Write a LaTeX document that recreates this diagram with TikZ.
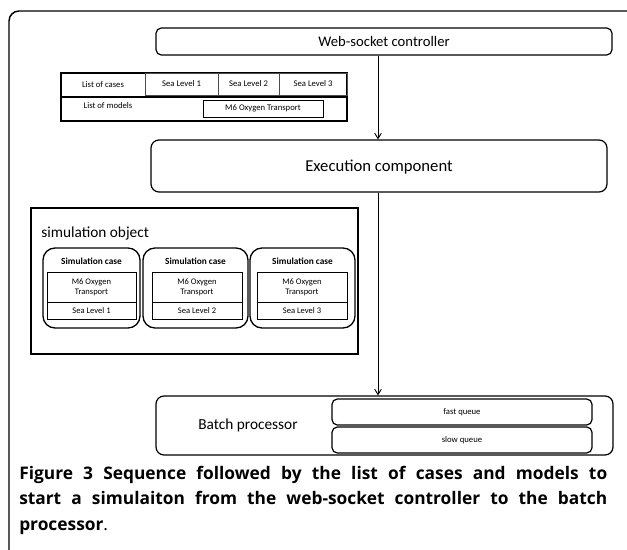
\documentclass[tikz,border=0pt]{standalone}
\usepackage{fontspec}
\setmainfont{Carlito}
\newfontfamily\capfont{Open Sans}
\usetikzlibrary{fit,arrows.meta,calc}

\tikzset{
  frame/.style={draw, line width=1.1pt, rounded corners=7.5pt},
  roundbox/.style={draw, line width=0.9pt, rounded corners=4pt, inner sep=0pt},
  bigbox/.style={draw, line width=0.9pt, rounded corners=6pt, inner sep=0pt},
  casebox/.style={draw, line width=1pt, rounded corners=9pt, inner sep=0pt},
  cell/.style={draw, line width=0.5pt, inner sep=0pt},
  plainbox/.style={draw, line width=0.8pt, inner sep=0pt},
  flow/.style={draw, line width=0.7pt, -{Straight Barb[length=4pt,width=5pt]}},
  tiny/.style={font=\fontsize{6.5}{7.5}\selectfont},
  small/.style={font=\fontsize{6.4}{7.6}\selectfont, align=center},
  casetitle/.style={font=\bfseries\fontsize{7}{8}\selectfont},
}

\begin{document}
\begin{tikzpicture}[x=0.75pt, y=-0.75pt]
\useasboundingbox (0,0) rectangle (627,549);

% outer frame (runs past the right and bottom edges)
\begin{scope}
  \clip (0,0) rectangle (627,549);
  \draw[frame] (9,11) rectangle (640,570);
\end{scope}

% web-socket controller
\node[roundbox, fit={(156,28) (612,55)}] (web) {};
\node[font=\fontsize{11}{13}\selectfont] at (web.center) {Web-socket controller};

% list of cases / list of models table
\node[plainbox, line width=1pt, fit={(61,73) (347,121)}] (table) {};
\draw[line width=1pt] (61,97) -- (347,97);
\node[cell, draw=black!70, fit={(145,73) (218,95)}] (sl1) {};
\node[cell, draw=black!70, fit={(218,73) (279,95)}] (sl2) {};
\node[cell, draw=black!70, fit={(279,73) (347,95)}] (sl3) {};
\node[tiny] at (103,85) {List of cases};
\node[tiny] at (sl1.center) {Sea Level 1};
\node[tiny] at (sl2.center) {Sea Level 2};
\node[tiny] at (sl3.center) {Sea Level 3};
\node[tiny] at (108,106) {List of models};
\node[cell, line width=0.6pt, fit={(203,100) (323,117)}] (m6) {};
\node[tiny] at (m6.center) {M6 Oxygen Transport};

% execution component
\node[bigbox, fit={(151,140) (607,192)}] (exec) {};
\node[font=\fontsize{12.5}{14}\selectfont] at (379,167) {Execution component};

% simulation object
\node[plainbox, line width=1pt, fit={(31,208) (358,354)}] (simobj) {};
\node[anchor=west, font=\fontsize{11.5}{13}\selectfont, inner sep=0pt] at (41,233) {simulation object};

% simulation cases
\foreach \i/\a/\b/\c/\d in {1/43/140/47/136, 2/143/248/152/242, 3/250/355/257/347} {
  \node[casebox, fit={(\a,248) (\b,328)}] (case\i) {};
  \node[casetitle] at ($(case\i.north)+(0,14)$) {Simulation case};
  \node[cell, line width=0.6pt, fit={(\c,272) (\d,302)}] (model\i) {};
  \node[cell, line width=0.6pt, fit={(\c,302) (\d,319)}] (level\i) {};
  \node[small] at (model\i.center) {M6 Oxygen\\Transport};
  \node[small] at (level\i.center) {Sea Level \i};
}

% batch processor
\node[bigbox, fit={(156,396) (613,455)}] (batch) {};
\node[font=\fontsize{11.5}{13}\selectfont] at (248,425) {Batch processor};
\node[roundbox, fit={(332,399) (592,425)}] (fast) {};
\node[roundbox, fit={(332,427) (592,453)}] (slow) {};
\node[tiny] at (fast.center) {fast queue};
\node[tiny] at (slow.center) {slow queue};

% flow of the request
\draw[flow] (web.south -| 378,0) -- (exec.north -| 378,0);
\draw[flow] (exec.south -| 378,0) -- (batch.north -| 378,0);

% caption
\node[anchor=north west, inner sep=0pt, text width=441pt, align=justify,
      font=\capfont\fontsize{13}{19}\selectfont] (caption) at (19,466)
  {\textbf{Figure 3} \textbf{Sequence followed by the list of cases and models to\linebreak
   start a simulaiton from the web-socket controller to the batch\linebreak
   processor}.};
\end{tikzpicture}
\end{document}
